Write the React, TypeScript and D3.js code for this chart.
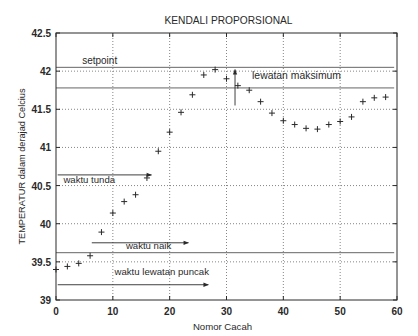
import * as d3 from "d3";
import { useEffect, useRef } from "react";

// data
const sampleNo = [0, 2, 4, 6, 8, 10, 12, 14, 16, 18, 20, 22, 24, 26, 28, 30, 32, 34, 36, 38, 40, 42, 44, 46, 48, 50, 52, 54, 56, 58];
const temperature = [
  39.4, 39.44, 39.48, 39.58, 39.89, 40.14, 40.29, 40.38, 40.6, 40.95,
  41.2, 41.46, 41.69, 41.95, 42.02, 41.9, 41.81, 41.75, 41.6, 41.45,
  41.35, 41.3, 41.25, 41.24, 41.3, 41.34, 41.4, 41.6, 41.65, 41.66,
];
const xTicks = [0, 10, 20, 30, 40, 50, 60];
const yTicks = [39, 39.5, 40, 40.5, 41, 41.5, 42, 42.5];

// reference lines (value) and annotation arrows
const bandLines = [42.05, 41.78, 39.62];
const arrows = [
  { label: "waktu tunda", from: 0.3, to: 16.8, y: 40.64, lx: 1.3, ly: 40.54 },
  { label: "waktu naik", from: 6.3, to: 23.3, y: 39.75, lx: 12.3, ly: 39.67 },
  { label: "waktu lewatan puncak", from: 0.3, to: 26.8, y: 39.2, lx: 10.3, ly: 39.33 },
];
const overshoot = { label: "lewatan maksimum", x: 31.5, y0: 41.55, y1: 42.02, lx: 34.5, ly: 41.9 };

const WIDTH = 418;
const HEIGHT = 336;
const margin = { top: 33, right: 21, bottom: 36, left: 56 };
const FONT = "Liberation Sans, Arial, sans-serif";

const Chart = () => {
  const svgRef = useRef<SVGSVGElement>(null);

  useEffect(() => {
    const svg = d3.select(svgRef.current);
    svg.selectAll("*").remove();

    const x = d3.scaleLinear().domain([0, 60]).range([margin.left, WIDTH - margin.right]);
    const y = d3.scaleLinear().domain([39, 42.5]).range([HEIGHT - margin.bottom, margin.top]);
    const ink = "#2a2a2a";

    svg.append("defs")
      .append("marker")
      .attr("id", "head")
      .attr("viewBox", "0 0 10 10")
      .attr("refX", 9)
      .attr("refY", 5)
      .attr("markerWidth", 7)
      .attr("markerHeight", 6)
      .attr("orient", "auto")
      .append("path")
      .attr("d", "M0,1 L10,5 L0,9 Z")
      .attr("fill", ink);

    // grid
    const g = svg.append("g");
    g.selectAll(".gx")
      .data(xTicks.slice(1, -1))
      .join("line")
      .attr("x1", (d) => x(d))
      .attr("x2", (d) => x(d))
      .attr("y1", y(39))
      .attr("y2", y(42.5))
      .attr("stroke", "#666")
      .attr("stroke-width", 0.8)
      .attr("stroke-dasharray", "1,2");
    g.selectAll(".gy")
      .data(yTicks.slice(1, -1))
      .join("line")
      .attr("x1", x(0))
      .attr("x2", x(60))
      .attr("y1", (d) => y(d))
      .attr("y2", (d) => y(d))
      .attr("stroke", "#666")
      .attr("stroke-width", 0.8)
      .attr("stroke-dasharray", "1,2");

    // band lines
    g.selectAll(".band")
      .data(bandLines)
      .join("line")
      .attr("x1", x(0))
      .attr("x2", x(59.5))
      .attr("y1", (d) => y(d))
      .attr("y2", (d) => y(d))
      .attr("stroke", "#555")
      .attr("stroke-width", 0.9);

    // frame
    svg.append("rect")
      .attr("x", x(0))
      .attr("y", y(42.5))
      .attr("width", x(60) - x(0))
      .attr("height", y(39) - y(42.5))
      .attr("fill", "none")
      .attr("stroke", ink)
      .attr("stroke-width", 1);

    // ticks inward
    xTicks.forEach((t) => {
      svg.append("line").attr("x1", x(t)).attr("x2", x(t)).attr("y1", y(39)).attr("y2", y(39) - 4).attr("stroke", ink);
      svg.append("line").attr("x1", x(t)).attr("x2", x(t)).attr("y1", y(42.5)).attr("y2", y(42.5) + 4).attr("stroke", ink);
    });
    yTicks.forEach((t) => {
      svg.append("line").attr("x1", x(0)).attr("x2", x(0) + 4).attr("y1", y(t)).attr("y2", y(t)).attr("stroke", ink);
      svg.append("line").attr("x1", x(60)).attr("x2", x(60) - 4).attr("y1", y(t)).attr("y2", y(t)).attr("stroke", ink);
    });

    // tick labels
    svg.selectAll(".xl")
      .data(xTicks)
      .join("text")
      .attr("x", (d) => x(d))
      .attr("y", y(39) + 15)
      .attr("text-anchor", "middle")
      .attr("font-family", FONT)
      .attr("font-size", 10)
      .attr("font-weight", "bold")
      .attr("fill", ink)
      .text((d) => d);
    svg.selectAll(".yl")
      .data(yTicks)
      .join("text")
      .attr("x", x(0) - 5)
      .attr("y", (d) => y(d) + 4)
      .attr("text-anchor", "end")
      .attr("font-family", FONT)
      .attr("font-size", 10)
      .attr("font-weight", "bold")
      .attr("fill", ink)
      .text((d) => d);

    // arrows + labels
    arrows.forEach((a) => {
      svg.append("line")
        .attr("x1", x(a.from))
        .attr("x2", x(a.to))
        .attr("y1", y(a.y))
        .attr("y2", y(a.y))
        .attr("stroke", ink)
        .attr("stroke-width", 0.9)
        .attr("marker-end", "url(#head)");
      svg.append("text")
        .attr("x", x(a.lx))
        .attr("y", y(a.ly))
        .attr("font-family", FONT)
        .attr("font-size", 9.6)
        .attr("fill", ink)
        .text(a.label);
    });
    svg.append("line")
      .attr("x1", x(overshoot.x))
      .attr("x2", x(overshoot.x))
      .attr("y1", y(overshoot.y0))
      .attr("y2", y(overshoot.y1))
      .attr("stroke", ink)
      .attr("stroke-width", 0.9)
      .attr("marker-end", "url(#head)");
    svg.append("text")
      .attr("x", x(overshoot.lx))
      .attr("y", y(overshoot.ly))
      .attr("font-family", FONT)
      .attr("font-size", 10.4)
      .attr("fill", ink)
      .text(overshoot.label);
    svg.append("text")
      .attr("x", x(4.6))
      .attr("y", y(42.1))
      .attr("font-family", FONT)
      .attr("font-size", 10)
      .attr("fill", ink)
      .text("setpoint");

    // points as "+"
    const pts = sampleNo.map((s, i) => ({ s, v: temperature[i] }));
    svg.append("g")
      .selectAll("path")
      .data(pts)
      .join("path")
      .attr("d", (d) => {
        const px = x(d.s), py = y(d.v);
        return `M${px - 3},${py}H${px + 3}M${px},${py - 3}V${py + 3}`;
      })
      .attr("stroke", ink)
      .attr("stroke-width", 1);

    // titles
    svg.append("text")
      .attr("x", (x(0) + x(60)) / 2 + 2)
      .attr("y", 24)
      .attr("text-anchor", "middle")
      .attr("font-family", FONT)
      .attr("font-size", 10.2)
      .attr("fill", ink)
      .text("KENDALI PROPORSIONAL");
    svg.append("text")
      .attr("x", (x(0) + x(60)) / 2 - 4)
      .attr("y", 330)
      .attr("text-anchor", "middle")
      .attr("font-family", FONT)
      .attr("font-size", 9.6)
      .attr("fill", ink)
      .text("Nomor Cacah");
    svg.append("text")
      .attr("transform", `translate(25,${(y(39) + y(42.5)) / 2}) rotate(-90)`)
      .attr("text-anchor", "middle")
      .attr("font-family", FONT)
      .attr("font-size", 9.2)
      .attr("fill", ink)
      .text("TEMPERATUR dalam derajad Celcius");
  }, []);

  return (
    <svg
      ref={svgRef}
      width={WIDTH}
      height={HEIGHT}
      style={{ position: "absolute", left: 0, top: 0, background: "#fff" }}
    ></svg>
  );
};

export default function App() {
  return <Chart />;
}
